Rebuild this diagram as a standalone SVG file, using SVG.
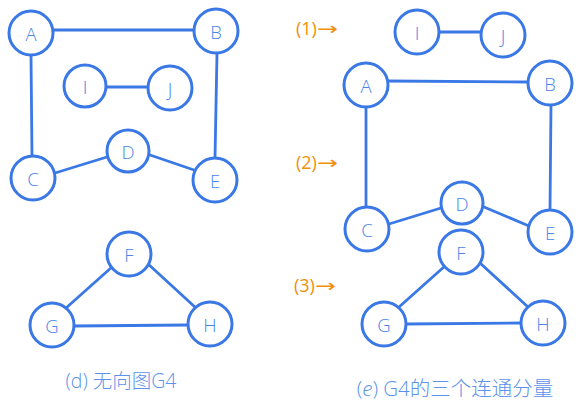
<svg xmlns="http://www.w3.org/2000/svg" width="582" height="413" viewBox="0 0 582 413">
<style>
.n circle{fill:#fff;stroke:#3a78e6;stroke-width:3}
.n text{font-family:"Open Sans","Noto Sans",sans-serif;font-weight:300;font-size:18.5px;fill:#4a86e8;text-anchor:middle;dominant-baseline:central}
.e line{stroke:#3a78e6;stroke-width:2.8;stroke-linecap:round}
.lab{font-family:"Open Sans","Noto Sans CJK SC",sans-serif;font-weight:300;fill:#5b92ea;text-anchor:middle}
.tag{font-family:"Open Sans","Noto Sans",sans-serif;font-weight:400;font-size:18px;fill:#f0900a}
.arr{font-family:"DejaVu Sans",sans-serif;font-size:18px}
</style>
<rect width="582" height="413" fill="#fff"/>
<g id="connectors" class="e">
<line x1="53" y1="30" x2="194" y2="30"/>
<line x1="31" y1="55" x2="32" y2="157"/>
<line x1="217" y1="53" x2="215" y2="158"/>
<line x1="106" y1="87" x2="149" y2="87"/>
<line x1="55" y1="173" x2="107" y2="157"/>
<line x1="150" y1="155" x2="197" y2="171"/>
<line x1="112" y1="267" x2="66" y2="308"/>
<line x1="147" y1="263" x2="196" y2="308"/>
<line x1="74" y1="326" x2="188" y2="325"/>
<line x1="439" y1="32" x2="481" y2="32"/>
<line x1="388" y1="81" x2="528" y2="82"/>
<line x1="366" y1="107" x2="366" y2="208"/>
<line x1="551" y1="105" x2="550" y2="210"/>
<line x1="389" y1="224" x2="441" y2="208"/>
<line x1="484" y1="207" x2="529" y2="226"/>
<line x1="445" y1="266" x2="399" y2="307"/>
<line x1="480" y1="263" x2="528" y2="307"/>
<line x1="406" y1="324" x2="521" y2="323"/>
</g>
<g id="L-A" class="n"><circle cx="31" cy="33" r="22"/><text x="31" y="33">A</text></g>
<g id="L-B" class="n"><circle cx="216" cy="31" r="22"/><text x="216" y="31">B</text></g>
<g id="L-I" class="n"><circle cx="85" cy="86" r="21"/><text x="85" y="86">I</text></g>
<g id="L-J" class="n"><circle cx="170" cy="88" r="22"/><text x="170" y="88">J</text></g>
<g id="L-C" class="n"><circle cx="33" cy="178" r="22"/><text x="33" y="178">C</text></g>
<g id="L-D" class="n"><circle cx="128" cy="151" r="21"/><text x="128" y="151">D</text></g>
<g id="L-E" class="n"><circle cx="215" cy="180" r="22"/><text x="215" y="180">E</text></g>
<g id="L-F" class="n"><circle cx="129" cy="254" r="22"/><text x="129" y="254">F</text></g>
<g id="L-G" class="n"><circle cx="52" cy="325" r="22"/><text x="52" y="325">G</text></g>
<g id="L-H" class="n"><circle cx="210" cy="324" r="22"/><text x="210" y="324">H</text></g>
<g id="R-I" class="n"><circle cx="417" cy="32" r="22"/><text x="417" y="32">I</text></g>
<g id="R-J" class="n"><circle cx="503" cy="35" r="22"/><text x="503" y="35">J</text></g>
<g id="R-A" class="n"><circle cx="366" cy="85" r="22"/><text x="366" y="85">A</text></g>
<g id="R-B" class="n"><circle cx="550" cy="83" r="22"/><text x="550" y="83">B</text></g>
<g id="R-C" class="n"><circle cx="367" cy="229" r="22"/><text x="367" y="229">C</text></g>
<g id="R-D" class="n"><circle cx="462" cy="203" r="21"/><text x="462" y="203">D</text></g>
<g id="R-E" class="n"><circle cx="550" cy="232" r="22"/><text x="550" y="232">E</text></g>
<g id="R-F" class="n"><circle cx="461" cy="252" r="22"/><text x="461" y="252">F</text></g>
<g id="R-G" class="n"><circle cx="384" cy="324" r="22"/><text x="384" y="324">G</text></g>
<g id="R-H" class="n"><circle cx="543" cy="323" r="22"/><text x="543" y="323">H</text></g>
<text class="tag" x="296" y="35">(1)<tspan class="arr" textLength="21" lengthAdjust="spacingAndGlyphs">→</tspan></text>
<text class="tag" x="296" y="169">(2)<tspan class="arr" textLength="21" lengthAdjust="spacingAndGlyphs">→</tspan></text>
<text class="tag" x="294" y="292">(3)<tspan class="arr" textLength="21" lengthAdjust="spacingAndGlyphs">→</tspan></text>
<text class="lab" x="121" y="388" font-size="19.5">(d) 无向图G4</text>
<text class="lab" x="455" y="396" font-size="20.5">(<tspan font-style="italic">e</tspan>) G4的三个连通分量</text>
</svg>
